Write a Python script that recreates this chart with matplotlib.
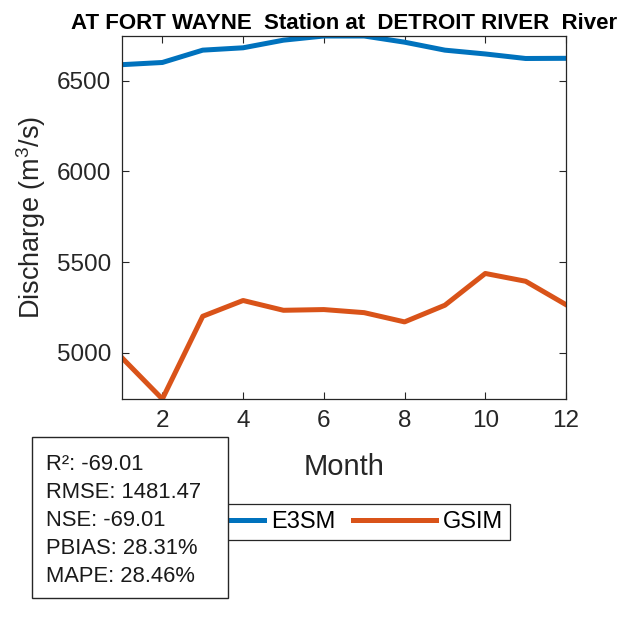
import numpy as np
from matplotlib import pyplot as plt
from matplotlib.patches import Rectangle

months = np.arange(1, 13)
e3sm = [6588, 6600, 6668, 6681, 6723, 6746, 6746, 6712, 6668, 6647, 6622, 6623]
gsim = [4972, 4745, 5201, 5288, 5234, 5238, 5221, 5170, 5262, 5437, 5394, 5265]
series_names = ["E3SM", "GSIM"]
stats_lines = ["R²: -69.01", "RMSE: 1481.47", "NSE: -69.01",
               "PBIAS: 28.31%", "MAPE: 28.46%"]
titulo = "AT FORT WAYNE  Station at  DETROIT RIVER  River"

plt.rcParams['font.family'] = ['Liberation Sans', 'DejaVu Sans']
plt.rcParams['mathtext.fontset'] = 'custom'
plt.rcParams['mathtext.rm'] = 'Liberation Sans'
plt.rcParams['mathtext.it'] = 'Liberation Sans'

W = H = 625
cinza = '#262626'
fig = plt.figure(figsize=(6.25, 6.25), dpi=100)
ax = fig.add_axes([122 / W, 1 - 399 / H, (566 - 122) / W, (399 - 36) / H])

ax.plot(months, e3sm, color='#0072BD', lw=3.6, label=series_names[0])
ax.plot(months, gsim, color='#D95319', lw=3.6, label=series_names[1])

ax.set_xlim(1, 12)
ax.set_ylim(min(gsim), max(e3sm))
ax.set_xticks([2, 4, 6, 8, 10, 12])
ax.set_yticks([5000, 5500, 6000, 6500])
ax.tick_params(direction='in', length=5, width=0.8, colors=cinza,
               labelsize=17.5, top=True, right=True, pad=8)
for s in ax.spines.values():
    s.set_color(cinza)
    s.set_linewidth(0.9)

ax.set_xlabel("Month", fontsize=21, color=cinza, labelpad=15)
ax.set_ylabel(r"Discharge (m$^3$/s)", fontsize=19.5, color=cinza, labelpad=6)
ax.set_title(titulo, fontsize=16, fontweight='bold', pad=5)

leg = ax.legend(loc='center', bbox_to_anchor=(342 / W, 1 - 522 / H),
                bbox_transform=fig.transFigure, ncol=2, fontsize=17,
                handlelength=3.5, handletextpad=0.3, columnspacing=0.75,
                borderpad=0.3, fancybox=False, framealpha=1)
leg.get_frame().set_edgecolor(cinza)
leg.get_frame().set_linewidth(0.9)

# caixa de estatisticas por cima da legenda
caixa = Rectangle((32 / W, 1 - 598 / H), (228 - 32) / W, (598 - 437) / H,
                  transform=fig.transFigure, facecolor='white',
                  edgecolor=cinza, lw=1.0, zorder=5)
fig.patches.append(caixa)
for i, linha in enumerate(stats_lines):
    fig.text(46 / W, 1 - (470 + 28 * i) / H, linha, fontsize=15.8,
             color='#1a1a1a', va='baseline', ha='left', zorder=6)

fig.savefig("out.png", dpi=100)
